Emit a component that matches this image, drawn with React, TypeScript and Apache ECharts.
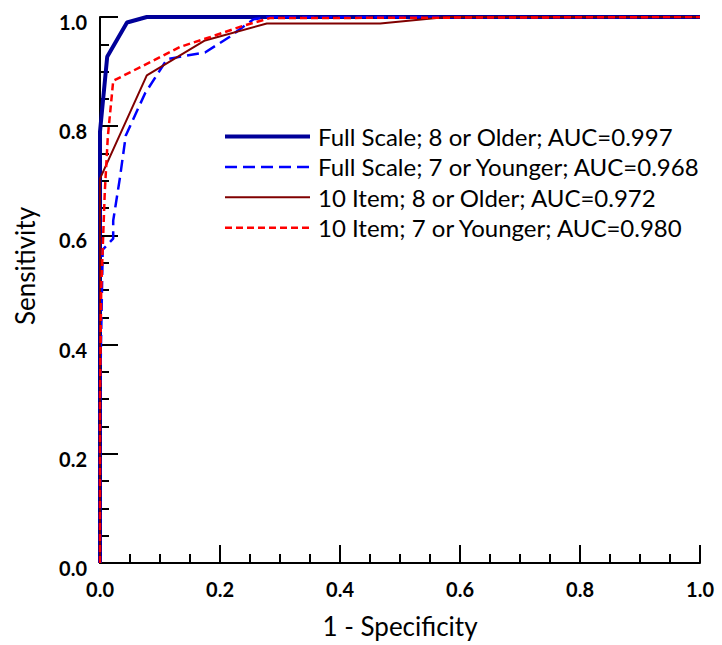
import React, { useEffect, useRef } from "react";
import * as echarts from "echarts";

// ROC curves: false positive rate (1 - specificity) and sensitivity
const seriesNames = [
  "Full Scale; 8 or Older; AUC=0.997",
  "Full Scale; 7 or Younger; AUC=0.968",
  "10 Item; 8 or Older; AUC=0.972",
  "10 Item; 7 or Younger; AUC=0.980",
];

const fs8Fpr = [0, 0, 0.012, 0.045, 0.078, 1];
const fs8Sens = [0, 0.79, 0.927, 0.99, 1.0, 1.0];

const fs7Fpr = [0, 0, 0.0045, 0.022, 0.022, 0.033, 0.043, 0.075, 0.112, 0.175, 0.215, 0.256, 0.28, 1];
const fs7Sens = [0, 0.3, 0.574, 0.594, 0.627, 0.704, 0.783, 0.86, 0.923, 0.935, 0.963, 0.996, 1.0, 1.0];

const it8Fpr = [0, 0, 0.078, 0.175, 0.278, 0.467, 0.578, 1];
const it8Sens = [0, 0.704, 0.893, 0.957, 0.988, 0.988, 1.0, 1.0];

const it7Fpr = [0, 0, 0.002, 0.008, 0.013, 0.022, 0.133, 0.183, 0.239, 0.283, 1];
const it7Sens = [0, 0.3, 0.5, 0.68, 0.78, 0.883, 0.945, 0.963, 0.984, 0.998, 1.0];

const xTicks = [0, 0.2, 0.4, 0.6, 0.8, 1.0];
const yTicks = [0, 0.2, 0.4, 0.6, 0.8, 1.0];

const colors = ["#000099", "#0000ff", "#800000", "#ff0000"];
const lineWidths = [4, 2.5, 2, 2.5];

function pairs(xs: number[], ys: number[]) {
  return xs.map((x, i) => [x, ys[i]]);
}

export default function App() {
  const ref = useRef<HTMLDivElement>(null);
  useEffect(() => {
    document.body.style.margin = "0";
    if (!ref.current) return;
    const chart = echarts.init(ref.current, undefined, { renderer: "svg" });
    const tickFont = { fontFamily: "Lato", fontWeight: "bold" as const, fontSize: 20, color: "#000" };
    const axisCommon = {
      type: "value" as const,
      min: xTicks[0],
      max: xTicks[xTicks.length - 1],
      interval: 0.2,
      axisLine: { show: true, lineStyle: { color: "#000", width: 2 } },
      axisTick: { show: true, inside: true, length: 18, lineStyle: { color: "#000", width: 2 } },
      minorTick: { show: true, splitNumber: 4, length: 9, lineStyle: { color: "#000", width: 2 } },
      splitLine: { show: false },
      minorSplitLine: { show: false },
      nameLocation: "middle" as const,
    };
    chart.setOption({
      animation: false,
      color: colors,
      grid: { left: 100, right: 22, top: 17, bottom: 82 },
      xAxis: {
        ...axisCommon,
        name: "1 - Specificity",
        nameGap: 50,
        nameTextStyle: { fontFamily: "Lato", fontSize: 26, color: "#000" },
        axisLabel: { ...tickFont, margin: 16, formatter: (v: number) => v.toFixed(1) },
      },
      yAxis: {
        ...axisCommon,
        min: yTicks[0],
        max: yTicks[yTicks.length - 1],
        name: "Sensitivity",
        nameGap: 62,
        nameTextStyle: { fontFamily: "Lato", fontSize: 26, color: "#000", padding: [0, 0, 0, 48] },
        axisLabel: {
          ...tickFont,
          margin: 13,
          verticalAlign: "top",
          lineHeight: 10,
          formatter: (v: number) => v.toFixed(1),
        },
      },
      legend: {
        orient: "vertical",
        left: 218,
        top: 118.5,
        itemWidth: 85,
        itemHeight: 14,
        itemGap: 4.4,
        itemStyle: { opacity: 0 },
        textStyle: { fontFamily: "Lato", fontSize: 24, color: "#000", lineHeight: 26, padding: [0, 0, 0, 3] },
        data: seriesNames.map((name, i) => ({
          name,
          lineStyle: { width: lineWidths[i] },
        })),
      },
      series: [
        {
          name: seriesNames[0],
          type: "line",
          data: pairs(fs8Fpr, fs8Sens),
          symbol: "none",
          lineStyle: { color: colors[0], width: lineWidths[0] },
        },
        {
          name: seriesNames[1],
          type: "line",
          data: pairs(fs7Fpr, fs7Sens),
          symbol: "none",
          lineStyle: { color: colors[1], width: lineWidths[1], type: [12, 6] },
        },
        {
          name: seriesNames[2],
          type: "line",
          data: pairs(it8Fpr, it8Sens),
          symbol: "none",
          lineStyle: { color: colors[2], width: lineWidths[2] },
        },
        {
          name: seriesNames[3],
          type: "line",
          data: pairs(it7Fpr, it7Sens),
          symbol: "none",
          lineStyle: { color: colors[3], width: lineWidths[3], type: [7, 4] },
        },
      ],
    });
    return () => chart.dispose();
  }, []);
  return <div ref={ref} style={{ width: 722, height: 645 }} />;
}
